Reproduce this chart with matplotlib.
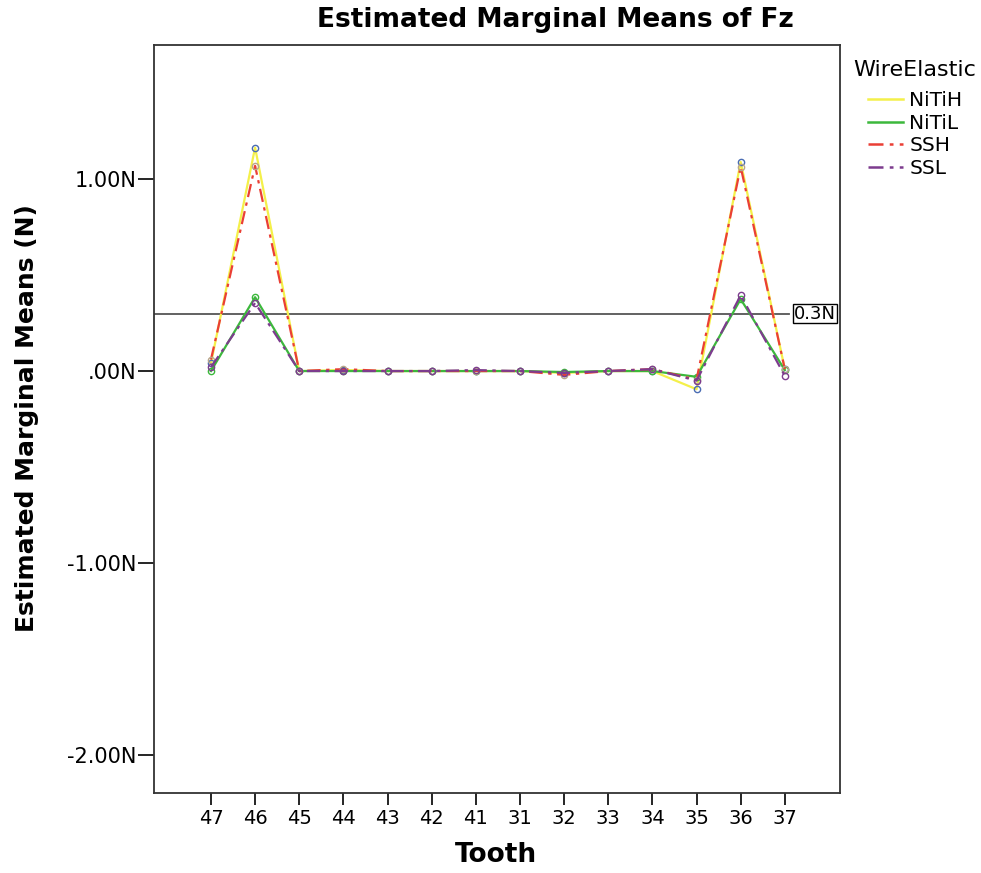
import matplotlib
matplotlib.use("Agg")
import matplotlib.pyplot as plt
from matplotlib.lines import Line2D

teeth = ["47", "46", "45", "44", "43", "42", "41", "31", "32", "33", "34", "35", "36", "37"]
nitih = [0.04, 1.165, 0.0, 0.005, 0.0, 0.0, 0.0, 0.0, -0.01, 0.0, 0.0, -0.095, 1.09, 0.01]
nitil = [0.0, 0.385, 0.0, 0.0, 0.0, 0.0, 0.0, 0.0, -0.005, 0.0, 0.0, -0.03, 0.375, 0.005]
ssh = [0.06, 1.07, 0.0, 0.01, 0.0, 0.0, 0.0, 0.0, -0.02, 0.0, 0.01, -0.045, 1.065, 0.01]
ssl = [0.02, 0.355, 0.0, 0.0, 0.0, 0.0, 0.005, 0.0, -0.01, 0.0, 0.01, -0.05, 0.395, -0.025]
series_names = ["NiTiH", "NiTiL", "SSH", "SSL"]
ref_value = 0.3
yticks = [1.0, 0.0, -1.0, -2.0]
ytick_labels = ["1.00N", ".00N", "-1.00N", "-2.00N"]

colors = {"NiTiH": "#f4f04a", "NiTiL": "#3cb83c", "SSH": "#ea3f35", "SSL": "#7d3c8e"}
mcolors = {"NiTiH": "#4a6cb3", "NiTiL": "#3cb83c", "SSH": "#b8a68a", "SSL": "#7d3c8e"}
styles = {"NiTiH": "-", "NiTiL": "-", "SSH": (0, (6, 2.5, 1.5, 2.5)), "SSL": (0, (6, 2.5, 1.5, 2.5))}
data = {"NiTiH": nitih, "NiTiL": nitil, "SSH": ssh, "SSL": ssl}

fig = plt.figure(figsize=(9.81, 8.73), dpi=100)
ax = fig.add_axes([154/981, 1-793/873, (840-154)/981, (793-45)/873])

x = list(range(len(teeth)))
for name in series_names:
    ax.plot(x, data[name], color=colors[name], linestyle=styles[name], lw=1.6,
            marker="o", markersize=4.5, markerfacecolor="none",
            markeredgecolor=mcolors[name], markeredgewidth=1.0, zorder=3)

ax.set_xlim(-1.29, 14.25)
ax.set_ylim(-2.2, 1.7)
ax.plot([-1.29, 13.1], [ref_value, ref_value], color="#555555", lw=1.3, zorder=2)
ax.text(13.2, ref_value, "0.3N", fontsize=13, va="center", ha="left",
        bbox=dict(boxstyle="square,pad=0.05", fc="white", ec="black", lw=1))

ax.set_xticks(x)
ax.set_xticklabels(teeth, fontsize=14)
ax.set_yticks(yticks)
ax.set_yticklabels(ytick_labels, fontsize=15)
ax.tick_params(axis="x", direction="out", length=8.6, width=1.2, color="black", pad=3)
ax.tick_params(axis="y", direction="out", length=11.5, width=1.2, color="black", pad=1)
for s in ax.spines.values():
    s.set_color("#333333")
    s.set_linewidth(1.3)

fig.text(496/981, 1-855/873, "Tooth", fontsize=19, fontweight="bold", ha="center", va="center")
fig.text(27/981, 1-418/873, "Estimated Marginal Means (N)", rotation=90, fontsize=18,
         fontweight="bold", ha="center", va="center")
fig.text(555/981, 1-20/873, "Estimated Marginal Means of Fz", fontsize=19,
         fontweight="bold", ha="center", va="center")

fig.text(853/981, 1-70/873, "WireElastic", fontsize=16, ha="left", va="center")
handles = [Line2D([0], [0], color=colors[n], linestyle=styles[n], lw=1.8) for n in series_names]
leg = fig.legend(handles, series_names, loc="upper left", bbox_to_anchor=(868/981, 1-91/873),
                 fontsize=14.5, frameon=False, borderpad=0, borderaxespad=0,
                 handlelength=1.75, labelspacing=0.18, handletextpad=0.3)

fig.savefig("out.png", dpi=100)
